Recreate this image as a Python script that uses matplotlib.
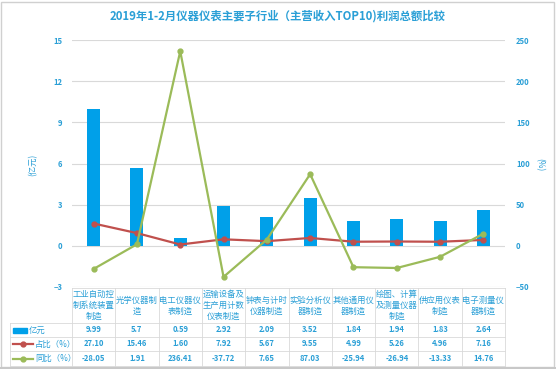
import matplotlib
matplotlib.use("Agg")
import matplotlib.pyplot as plt
import matplotlib.transforms as mtransforms
from matplotlib.patches import Rectangle
from matplotlib.lines import Line2D

plt.rcParams['font.family'] = ['Noto Sans CJK SC', 'DejaVu Sans']

categories = ["工业自动控\n制系统装置\n制造", "光学仪器制\n造", "电工仪器仪\n表制造",
              "运输设备及\n生产用计数\n仪表制造", "钟表与计时\n仪器制造", "实验分析仪\n器制造",
              "其他通用仪\n器制造", "绘图、计算\n及测量仪器\n制造", "供应用仪表\n制造", "电子测量仪\n器制造"]
profit = [9.99, 5.7, 0.59, 2.92, 2.09, 3.52, 1.84, 1.94, 1.83, 2.64]
share = [27.10, 15.46, 1.60, 7.92, 5.67, 9.55, 4.99, 5.26, 4.96, 7.16]
yoy = [-28.05, 1.91, 236.41, -37.72, 7.65, 87.03, -25.94, -26.94, -13.33, 14.76]
profit_lbl = ["9.99", "5.7", "0.59", "2.92", "2.09", "3.52", "1.84", "1.94", "1.83", "2.64"]
share_lbl = ["27.10", "15.46", "1.60", "7.92", "5.67", "9.55", "4.99", "5.26", "4.96", "7.16"]
yoy_lbl = ["-28.05", "1.91", "236.41", "-37.72", "7.65", "87.03", "-25.94", "-26.94", "-13.33", "14.76"]
row_names = ["亿元", "占比（%）", "同比（%）"]

W, H = 556, 369
BLUE = "#00A0E9"
RED = "#C0504D"
GREEN = "#9BBB59"
TXT = "#2A9FD6"
GRID = "#D9D9D9"

fig = plt.figure(figsize=(W/100, H/100), dpi=100)
fig.patch.set_facecolor("white")

def fy(py):
    return 1 - py/H

x0, x1 = 72, 505
ax = fig.add_axes([x0/W, fy(287), (x1-x0)/W, (287-40)/H])
ax2 = ax.twinx()
n = len(categories)
xs = list(range(n))
ax.bar(xs, profit, width=0.3, color=BLUE, zorder=2)
ax.set_xlim(-0.5, n-0.5)
ax.set_ylim(-3, 15)
ax.set_yticks([-3, 0, 3, 6, 9, 12, 15])
ax.grid(axis='y', color=GRID, linewidth=0.8, zorder=0)
ax.set_axisbelow(True)
ax.set_xticks([])
for a in (ax, ax2):
    for s in a.spines.values():
        s.set_visible(False)
    a.tick_params(axis='y', length=0, labelsize=5.5, labelcolor=TXT)
    for lab in a.get_yticklabels():
        lab.set_fontweight('bold')
ax.tick_params(axis='y', pad=7)
ax2.tick_params(axis='y', pad=8)
ax2.set_ylim(-50, 250)
ax2.set_yticks([-50, 0, 50, 100, 150, 200, 250])
for lab in ax2.get_yticklabels():
    lab.set_fontweight('bold')
ax2.plot(xs, share, color=RED, linewidth=1.6, marker='o', markersize=3.5, zorder=3)
ax2.plot(xs, yoy, color=GREEN, linewidth=1.6, marker='o', markersize=3.5, zorder=3)
fig.text(33/W, fy(165), "(亿元)", color=TXT, fontsize=6, rotation=90, ha='center', va='center')
fig.text(540/W, fy(165), "(%)", color=TXT, fontsize=6, rotation=270, ha='center', va='center')

fig.text(0.5, fy(16), "2019年1-2月仪器仪表主要子行业（主营收入TOP10)利润总额比较",
         ha='center', va='center', color=TXT, fontsize=8.2, fontweight='semibold')

# data table
tr = mtransforms.blended_transform_factory(ax.transData, fig.transFigure)
rows_y = [288, 323, 337, 351, 366]
lw = 0.6
fig.add_artist(Line2D([-0.5, n-0.5], [fy(288)]*2, transform=tr, color=GRID, lw=lw))
for yy in rows_y[1:]:
    fig.add_artist(Line2D([10/W, x1/W], [fy(yy)]*2, color=GRID, lw=lw))
fig.add_artist(Line2D([10/W, 10/W], [fy(323), fy(366)], color=GRID, lw=lw))
for i in range(n+1):
    fig.add_artist(Line2D([i-0.5, i-0.5], [fy(288), fy(366)], transform=tr, color=GRID, lw=lw))
for i, c in enumerate(categories):
    fig.text(i, fy(305.5), c, transform=tr, ha='center', va='center', fontsize=6,
             color=TXT, linespacing=1.25)
for r, labels in enumerate([profit_lbl, share_lbl, yoy_lbl]):
    yc = fy((rows_y[r+1] + rows_y[r+2]) / 2)
    for i, v in enumerate(labels):
        fig.text(i, yc, v, transform=tr, ha='center', va='center', fontsize=5.5,
                 color=TXT, fontweight='semibold')
for r, name in enumerate(row_names):
    ypx = (rows_y[r+1] + rows_y[r+2]) / 2
    yc = fy(ypx)
    if r == 0:
        fig.add_artist(Rectangle((13/W, fy(ypx+2.5)), 14/W, 5/H, color=BLUE))
    else:
        col = RED if r == 1 else GREEN
        fig.add_artist(Line2D([13/W, 33/W], [yc, yc], color=col, lw=1.6))
        fig.add_artist(Line2D([23/W], [yc], color=col, marker='o', markersize=3.5))
    fig.text((29 if r == 0 else 35)/W, yc, name, ha='left', va='center', fontsize=6, color=TXT)

fig.add_artist(Rectangle((1/W, fy(367)), (W-3)/W, (367-2)/H, fill=False, edgecolor="#D0D0D0", lw=1))
fig.add_artist(Rectangle((0, 0), 1, 2/H, color="#C8C8C8", lw=0))

fig.savefig("out.png", dpi=100)
